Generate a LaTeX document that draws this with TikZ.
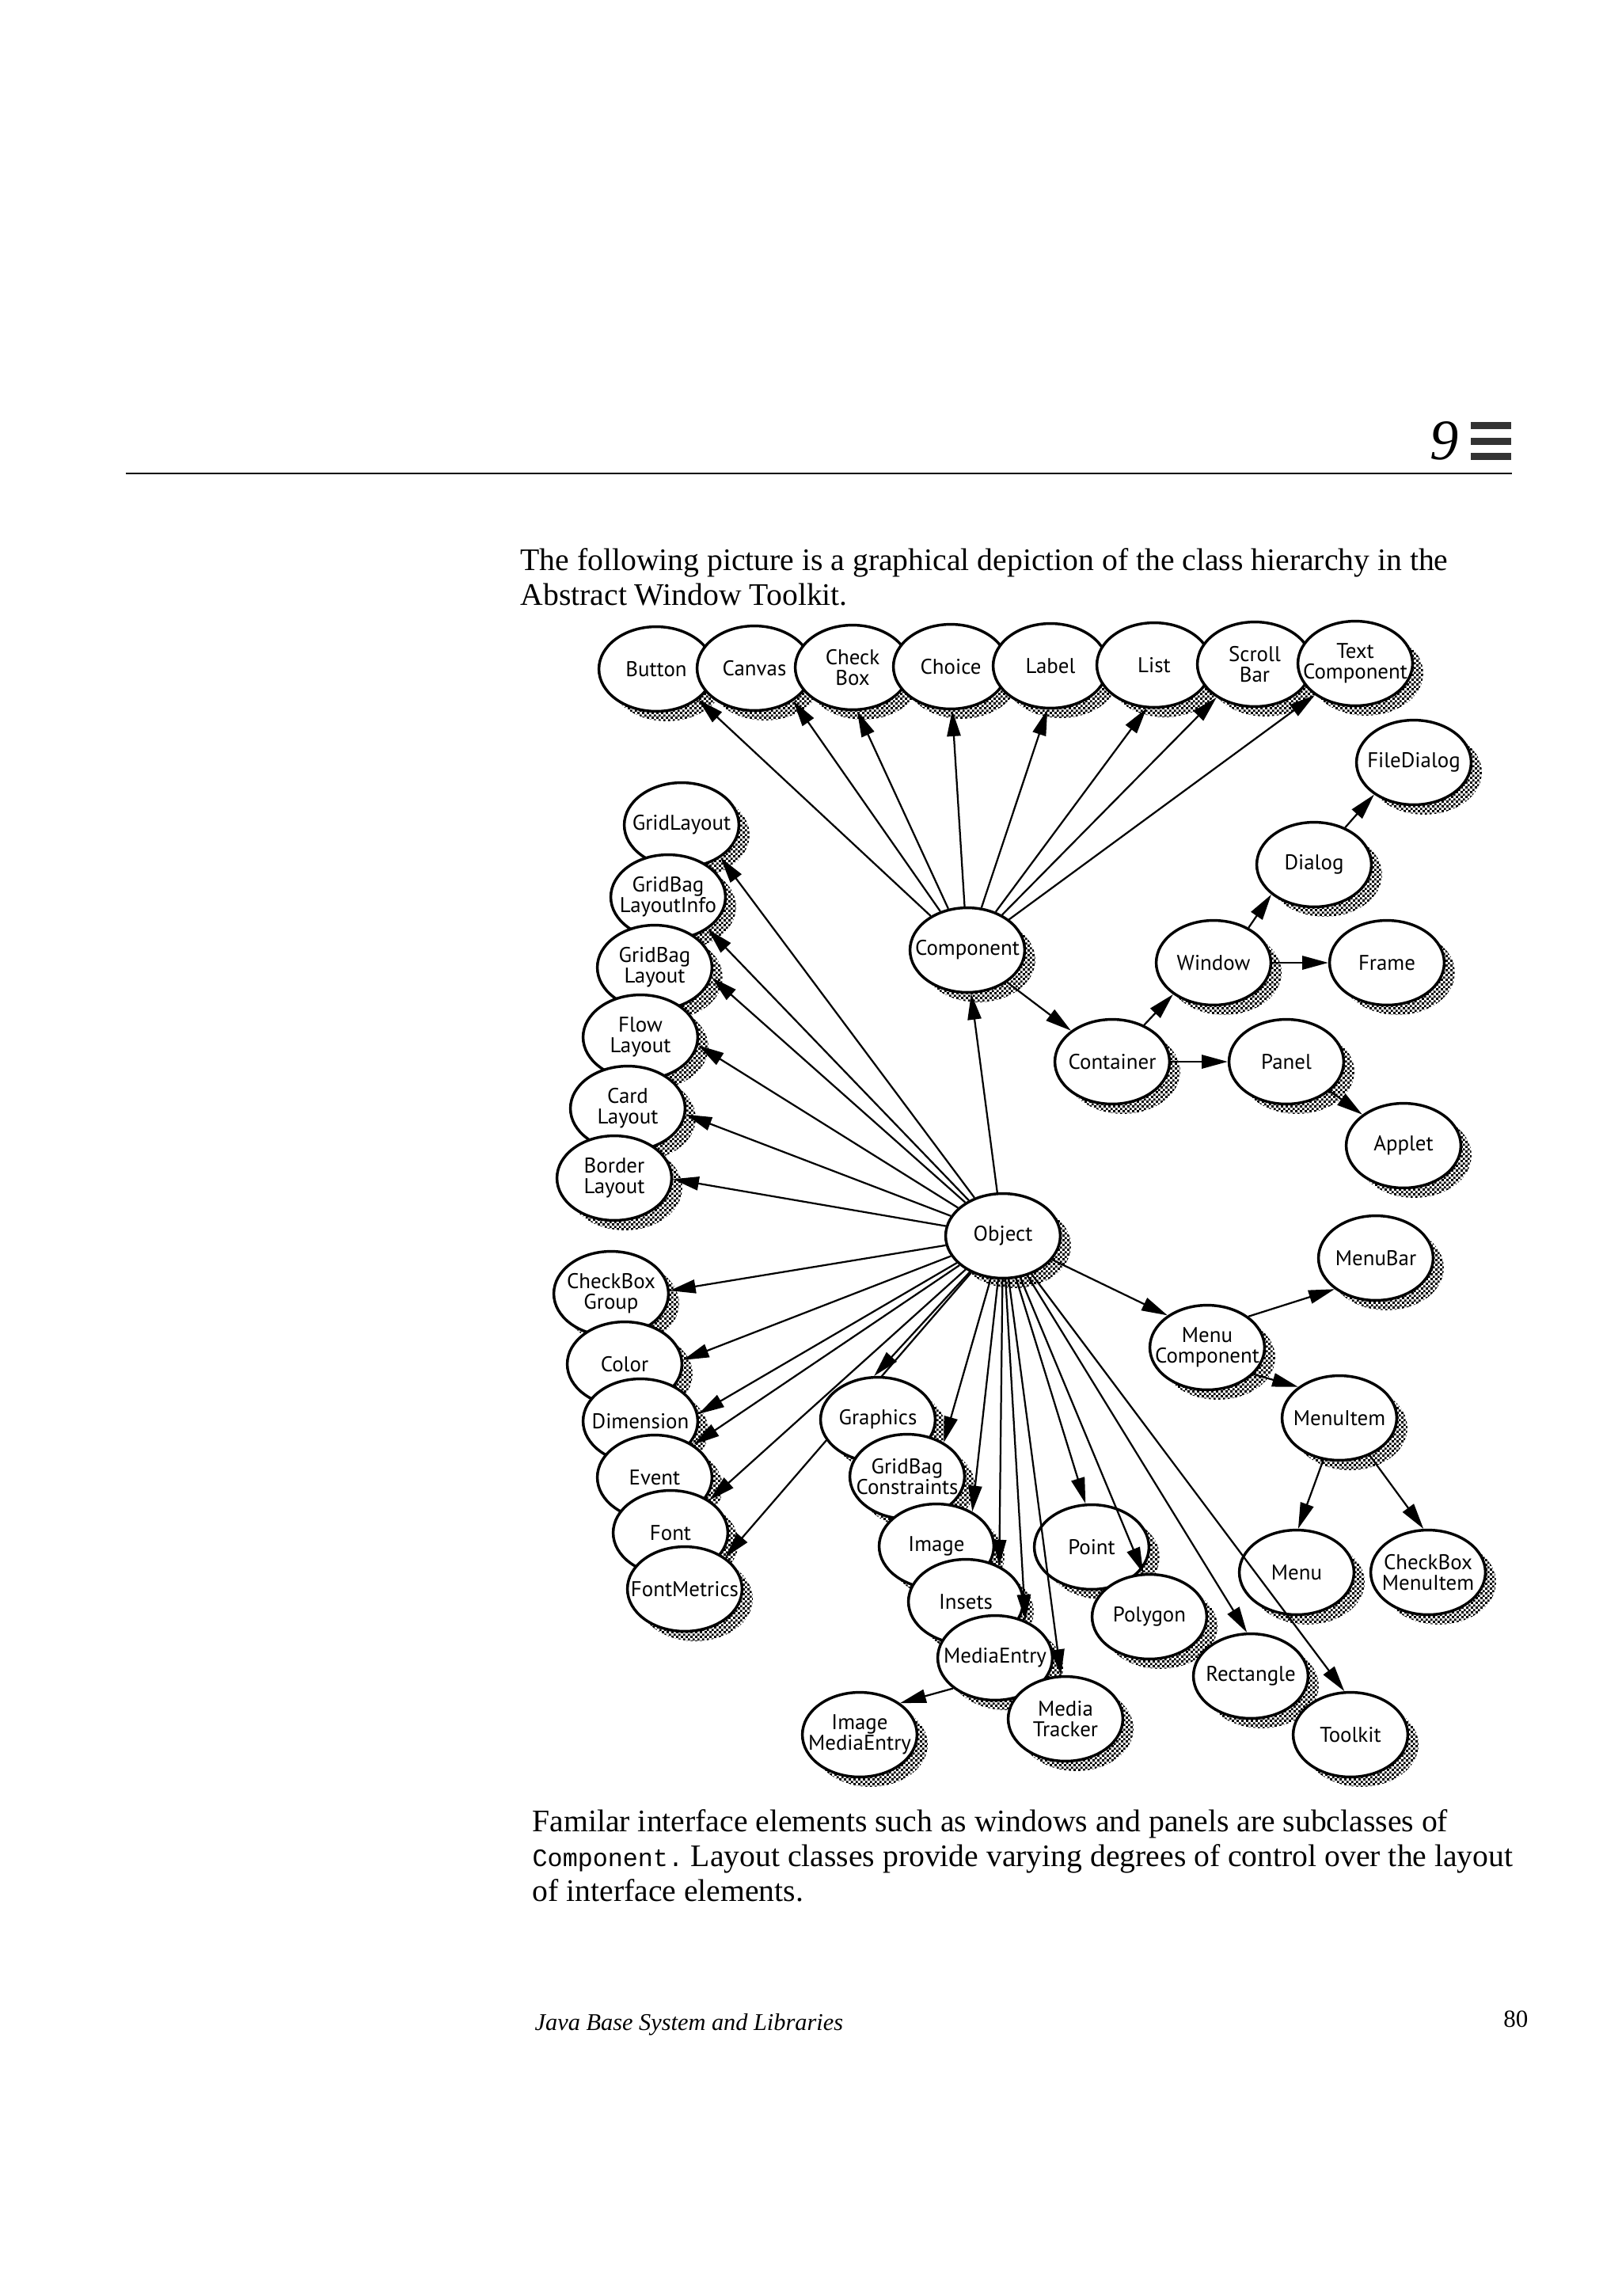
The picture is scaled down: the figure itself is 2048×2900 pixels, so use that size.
\documentclass[tikz,border=0pt]{standalone}
\usepackage{fontspec}
\setmainfont{Liberation Serif}
\setmonofont{Liberation Mono}
\newfontfamily\lblfont{PT Sans}
\usetikzlibrary{shapes.geometric,arrows.meta,shadows,patterns,backgrounds}

% checkered stipple for the shadows
\pgfdeclarepatternformonly{shadowdots}{\pgfpointorigin}{\pgfpoint{1.8pt}{1.8pt}}{\pgfpoint{1.8pt}{1.8pt}}{%
  \pgfpathrectangle{\pgfpointorigin}{\pgfpoint{0.9pt}{0.9pt}}%
  \pgfpathrectangle{\pgfpoint{0.9pt}{0.9pt}}{\pgfpoint{0.9pt}{0.9pt}}%
  \pgfusepath{fill}}

\tikzset{
  cls/.style={ellipse, draw, line width=1pt, fill=white, inner sep=0pt,
    minimum width=42pt, minimum height=31pt,
    general shadow={shadow xshift=3.9pt, shadow yshift=-3.6pt, pattern=shadowdots}},
  lbl/.style={font=\lblfont\fontsize{7.8}{7.5}\selectfont, align=center, inner sep=0pt},
  arr/.style={line width=0.65pt, -{Triangle[length=9.5pt,width=5pt]}},
  body/.style={anchor=base west, inner sep=0pt, font=\fontsize{11.5}{12.8}\selectfont}
}
\newcommand{\awtclass}[3]{\node[cls, label={[lbl]center:{#3}}] (#1) at #2 {};}

\begin{document}
\begin{tikzpicture}[x=0.29pt,y=0.29pt,yscale=-1]
\useasboundingbox (0,0) rectangle (2048,2900);

%Header
\draw [line width=0.7pt] (159,598) -- (1910,598) ;
\node [anchor=base east, inner sep=0pt, font=\itshape\fontsize{21}{21}\selectfont] (chapno) at (1843,580) {9};
\foreach \y in {537,557,576}
  \fill [black!80] (1858,\y-4.5) rectangle (1909,\y+4.5) ;

% Text Node
\node [body] (intro1) at (657,720) {The following picture is a graphical depiction of the class hierarchy in the};
\node [body] (intro2) at (657,764) {Abstract Window Toolkit.};

%Top row
\awtclass{button}{(829,845)}{Button}
\awtclass{canvas}{(953,844)}{Canvas}
\awtclass{checkbox}{(1077,843)}{Check\\Box}
\awtclass{choice}{(1201,842)}{Choice}
\awtclass{label}{(1327,841)}{Label}
\awtclass{list}{(1458,840)}{List}
\awtclass{scrollbar}{(1585,839)}{Scroll\\Bar}
\awtclass{textcomp}{(1712,838)}{Text\\Component}

%Windows and containers
\awtclass{filedialog}{(1786,963)}{FileDialog}
\awtclass{dialog}{(1660,1092)}{Dialog}
\awtclass{window}{(1533,1216)}{Window}
\awtclass{frame}{(1752,1216)}{Frame}
\awtclass{component}{(1222,1200)}{Component}
\awtclass{container}{(1405,1341)}{Container}
\awtclass{panel}{(1625,1341)}{Panel}
\awtclass{applet}{(1773,1447)}{Applet}

%Layouts
\awtclass{gridlayout}{(861,1042)}{GridLayout}
\awtclass{gblinfo}{(844,1133)}{GridBag\\LayoutInfo}
\awtclass{gblayout}{(827,1222)}{GridBag\\Layout}
\awtclass{flowlayout}{(809,1310)}{Flow\\Layout}
\awtclass{cardlayout}{(793,1400)}{Card\\Layout}
\awtclass{borderlayout}{(776,1488)}{Border\\Layout}

\awtclass{object}{(1267,1561)}{Object}

%Menus
\awtclass{menubar}{(1738,1589)}{MenuBar}
\awtclass{menucomp}{(1525,1702)}{Menu\\Component}
\awtclass{menuitem}{(1692,1791)}{MenuItem}
\awtclass{menu}{(1638,1986)}{Menu}
\awtclass{cbmenuitem}{(1804,1986)}{CheckBox\\MenuItem}

%Lower left column
\awtclass{cbgroup}{(772,1634)}{CheckBox\\Group}
\awtclass{color}{(789,1723)}{Color}
\awtclass{dimension}{(809,1795)}{Dimension}
\awtclass{event}{(827,1866)}{Event}
\awtclass{font}{(847,1936)}{Font}
\awtclass{fontmetrics}{(865,2007)}{FontMetrics}

%Lower middle
\awtclass{graphics}{(1109,1793)}{Graphics}
\awtclass{gbconstraints}{(1146,1865)}{GridBag\\Constraints}
\awtclass{image}{(1183,1953)}{Image}
\awtclass{insets}{(1220,2023)}{Insets}
\awtclass{mediaentry}{(1257,2094)}{MediaEntry}
\awtclass{mediatracker}{(1346,2171)}{Media\\Tracker}
\awtclass{imagemediaentry}{(1086,2191)}{Image\\MediaEntry}
\awtclass{point}{(1379,1954)}{Point}
\awtclass{polygon}{(1452,2042)}{Polygon}
\awtclass{rectangle}{(1580,2117)}{Rectangle}
\awtclass{toolkit}{(1706,2191)}{Toolkit}

%Arrows from Component
\draw [arr] (component) -- (button.-36) ;
\draw [arr] (component) -- (canvas.-40) ;
\draw [arr] (component) -- (checkbox.-84) ;
\draw [arr] (component) -- (choice.-88) ;
\draw [arr] (component) -- (label.-94) ;
\draw [arr] (component) -- (list.-100) ;
\draw [arr] (component) -- (scrollbar.-139) ;
\draw [arr] (component) -- (textcomp.-142) ;
\draw [arr] (component.-39) -- (container.143) ;
\draw [arr] (container.49) -- (window.218) ;
\draw [arr] (container.east) -- (panel.west) ;
\draw [arr] (window.45) -- (dialog.215) ;
\draw [arr] (window.east) -- (frame.west) ;
\draw [arr] (dialog.50) -- (filedialog.219) ;
\draw [arr] (panel.-34) -- (applet.143) ;

%Arrows from Object
\draw [arr] (object) -- (component.-85) ;
\draw [arr] (object) -- (gridlayout.-40) ;
\draw [arr] (object) -- (gblinfo.-39) ;
\draw [arr] (object) -- (gblayout.-10) ;
\draw [arr] (object) -- (flowlayout.-8) ;
\draw [arr] (object) -- (cardlayout.-6) ;
\draw [arr] (object) -- (borderlayout.-1) ;
\draw [arr] (object) -- (cbgroup.3) ;
\draw [arr] (object) -- (color.4) ;
\draw [arr] (object) -- (dimension.7) ;
\draw [arr] (object) -- (event.40) ;
\draw [arr] (object) -- (font.40) ;
\begin{scope}[on background layer]
\draw [arr] (object) -- (fontmetrics.38) ;
\end{scope}
\draw [arr] (object) -- (graphics.95) ;
\draw [arr] (object) -- (gbconstraints.43) ;
\draw [arr] (object) -- (image.44) ;
\draw [arr] (object) -- (insets.47) ;
\draw [arr] (object) -- (mediaentry.51) ;
\draw [arr] (object) -- (mediatracker.96) ;
\draw [arr] (object) -- (point.98) ;
\draw [arr] (object) -- (polygon.98) ;
\draw [arr] (object) -- (rectangle.95) ;
\draw [arr] (object) -- (toolkit.98) ;
\draw [arr] (object) -- (menucomp.141) ;
\draw [arr] (mediaentry.216) -- (imagemediaentry.38) ;
\draw [arr] (menucomp.37) -- (menubar.217) ;
\draw [arr] (menucomp.-30) -- (menuitem.143) ;
\draw [arr] (menuitem.-111) -- (menu.88) ;
\draw [arr] (menuitem.-51) -- (cbmenuitem.96) ;

% Text Node
\node [body] (capt1) at (672,2313) {Familar interface elements such as windows and panels are subclasses of};
\node [body] (capt2) at (672,2357) {{\ttfamily\fontsize{9.2}{12.8}\selectfont Component.}\ Layout classes provide varying degrees of control over the layout};
\node [body] (capt3) at (672,2401) {of interface elements.};
\node [anchor=base west, inner sep=0pt, font=\itshape\fontsize{8.8}{10}\selectfont] (foot) at (675,2564) {Java Base System and Libraries};
\node [anchor=base east, inner sep=0pt, font=\fontsize{9}{10}\selectfont] (pageno) at (1931,2560) {80};

\end{tikzpicture}
\end{document}
